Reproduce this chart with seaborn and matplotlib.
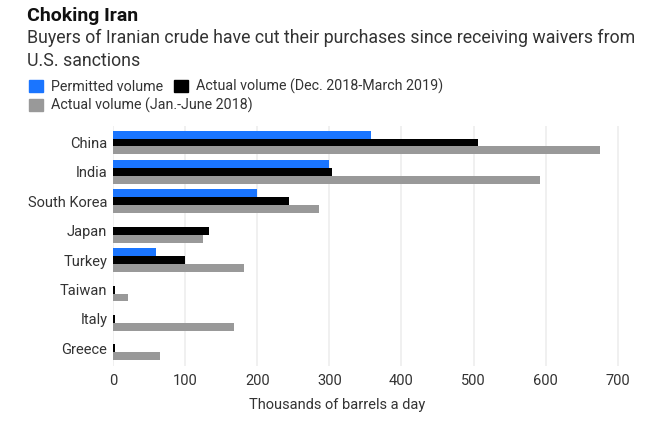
import pandas as pd
import matplotlib.pyplot as plt
import seaborn as sns

countries = ['China', 'India', 'South Korea', 'Japan', 'Turkey', 'Taiwan', 'Italy', 'Greece']
permitted = [358, 300, 200, 0, 60, 0, 0, 0]
actual_recent = [506, 304, 244, 133, 100, 3, 3, 3]
actual_2018 = [675, 592, 285, 125, 182, 21, 168, 65]
x_ticks = [0, 100, 200, 300, 400, 500, 600, 700]

label_permitted = 'Permitted volume'
label_recent = 'Actual volume (Dec. 2018-March 2019)'
label_2018 = 'Actual volume (Jan.-June 2018)'

# Daten ins lange Format fuer seaborn
df = pd.DataFrame({'country': countries, label_permitted: permitted,
                   label_recent: actual_recent, label_2018: actual_2018})
df = df.melt(id_vars='country', var_name='series', value_name='volume')

sns.set_theme(style='white')
plt.rcParams['font.family'] = ['Roboto', 'DejaVu Sans']

W, H = 668, 422
fig = plt.figure(figsize=(W / 100, H / 100), dpi=100)
ax = fig.add_axes([113 / W, 1 - 366 / H, (620 - 113) / W, (366 - 126) / H])

colors = {label_permitted: '#1a75ff', label_recent: '#000000', label_2018: '#999999'}
sns.barplot(data=df, y='country', x='volume', hue='series', palette=colors, order=countries,
            hue_order=[label_permitted, label_recent, label_2018],
            width=0.81, gap=0, saturation=1, legend=False, ax=ax, zorder=3, linewidth=0, edgecolor='none')

ax.set_xlim(0, 703)
ax.set_ylim(7.6, -0.56)
ax.set_xticks(x_ticks)
ax.set_xlabel('Thousands of barrels a day', fontsize=10.5, color='#333333', labelpad=7, x=(337 - 113) / 507)
ax.set_ylabel('')
ax.tick_params(axis='x', length=0, labelsize=10.5, labelcolor='#333333', pad=6)
ax.tick_params(axis='y', length=0, labelsize=10.5, labelcolor='#333333', pad=4)
ax.grid(axis='x', color='#eeeeee', linewidth=1.2, zorder=0)
ax.grid(axis='y', visible=False)
for spine in ax.spines.values():
    spine.set_visible(False)

# Kopfzeilen
fig.text(27 / W, 1 - 21 / H, 'Choking Iran', fontsize=14, fontweight='bold', color='#111111', va='baseline')
fig.text(27 / W, 1 - 43 / H, 'Buyers of Iranian crude have cut their purchases since receiving waivers from',
         fontsize=12.8, color='#333333', va='baseline')
fig.text(27 / W, 1 - 66 / H, 'U.S. sanctions', fontsize=12.8, color='#333333', va='baseline')

# Legende in zwei Teilen, damit die zweite Zeile die Spalten nicht verschiebt
legend_kw = dict(frameon=False, loc='upper left', fontsize=10.3, labelcolor='#333333', handlelength=1.0,
                 handleheight=1.0, handletextpad=0.55, columnspacing=0.75, borderpad=0, borderaxespad=0)
top_keys = [label_permitted, label_recent]
fig.legend([plt.Rectangle((0, 0), 1, 1, color=colors[k]) for k in top_keys], top_keys, ncol=2,
           bbox_to_anchor=(29 / W, 1 - 79 / H), **legend_kw)
fig.legend([plt.Rectangle((0, 0), 1, 1, color=colors[label_2018])], [label_2018],
           bbox_to_anchor=(29 / W, 1 - 98 / H), **legend_kw)

fig.savefig('out.png', dpi=100)
